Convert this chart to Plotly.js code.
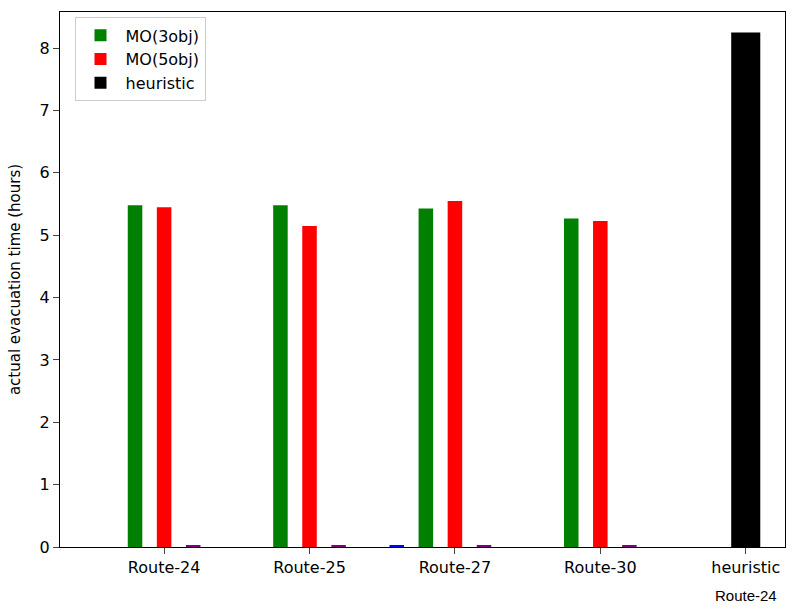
<html><head><script src="https://cdn.plot.ly/plotly-3.0.1.min.js"></script></head><body style="margin:0">
<div id="c" style="width:795px;height:610px"></div>
<script>
const categories=["Route-24","Route-25","Route-27","Route-30","heuristic"];
const mo3=[5.48,5.48,5.43,5.27];
const mo5=[5.45,5.15,5.55,5.23];
const heuristic=[8.25];
const smallPurple=[0.02,0.02,0.02,0.02];
const smallBlue=[0.02];
const pos=categories.map((c,i)=>i);
const traces=[
{type:'bar',name:'MO(3obj)',x:pos.slice(0,4).map(v=>v-0.2),y:mo3,width:0.1,marker:{color:'green'}},
{type:'bar',name:'MO(5obj)',x:pos.slice(0,4),y:mo5,width:0.1,marker:{color:'red'}},
{type:'bar',name:'heuristic',x:[4],y:heuristic,width:0.2,marker:{color:'black'}},
{type:'bar',showlegend:false,x:pos.slice(0,4).map(v=>v+0.2),y:smallPurple,width:0.1,marker:{color:'purple'}},
{type:'bar',showlegend:false,x:[1.6],y:smallBlue,width:0.1,marker:{color:'blue'}}
];
Plotly.newPlot('c',traces,{
width:795,height:610,margin:{l:60,r:10,t:12,b:63},
plot_bgcolor:'white',paper_bgcolor:'white',barmode:'overlay',
font:{family:'DejaVu Sans',size:16,color:'black'},
xaxis:{range:[-0.716,4.27],tickvals:pos,ticktext:categories,ticks:'outside',ticklen:6,showgrid:false,zeroline:false,showline:true,mirror:true,linecolor:'black'},
yaxis:{range:[0,8.58],dtick:1,ticks:'outside',ticklen:6,showgrid:false,zeroline:false,showline:true,mirror:true,linecolor:'black',title:{text:'actual evacuation time (hours)',font:{size:15}}},
legend:{x:0.02,y:0.99,xanchor:'left',yanchor:'top',bordercolor:'#ccc',borderwidth:1,font:{size:16},itemwidth:40,tracegroupgap:4},
annotations:[{text:'Route-24',x:4,xref:'x',y:-0.09,yref:'paper',yanchor:'middle',showarrow:false,font:{family:'Liberation Sans',size:15}}]
},{displayModeBar:false});
</script></body></html>
